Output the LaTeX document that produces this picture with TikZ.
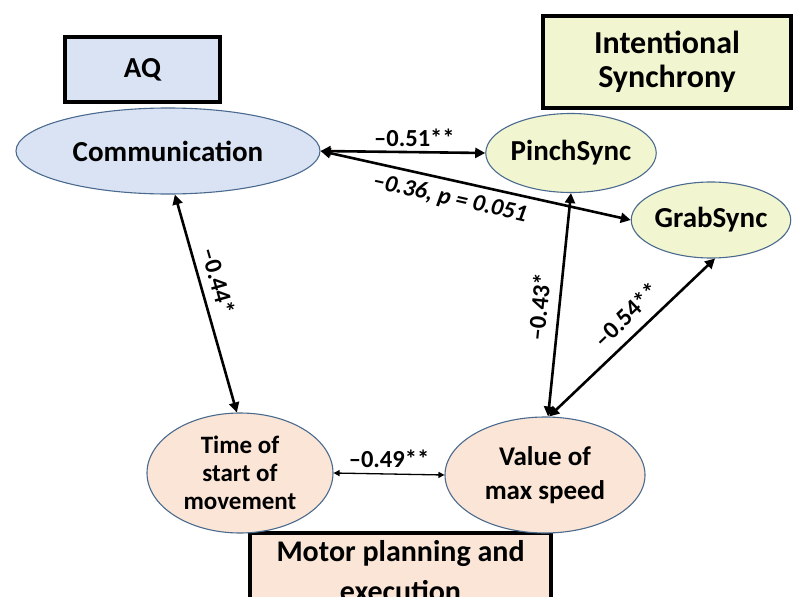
\documentclass[tikz,border=0pt]{standalone}
\usepackage{fontspec}
\setmainfont{Carlito}
\usetikzlibrary{arrows.meta,shapes.geometric}
\definecolor{aqblue}{HTML}{DAE3F3}
\definecolor{syncyellow}{HTML}{F2F6D0}
\definecolor{motorpeach}{HTML}{FBE5D6}
\definecolor{ellborder}{HTML}{4A6A8F}
\tikzset{
  titlebox/.style={draw=black, line width=3.5pt, align=center, inner sep=0pt, font=\fontsize{29}{34}\selectfont\bfseries},
  varell/.style={ellipse, draw=ellborder, line width=1.1pt, inner sep=0pt, align=center},
  bigtxt/.style={font=\fontsize{29}{34}\selectfont\bfseries},
  midtxt/.style={font=\fontsize{25}{28}\selectfont\bfseries},
  corr/.style={line width=2.6pt, {Triangle[length=10pt,width=10pt]}-{Triangle[length=10pt,width=10pt]}},
  corrthin/.style={line width=1.3pt, {Triangle[length=6pt,width=6pt]}-{Triangle[length=6pt,width=6pt]}},
  lbl/.style={font=\fontsize{24.5}{28}\selectfont\bfseries, inner sep=4pt},
  lblit/.style={font=\fontsize{24}{28}\selectfont\bfseries\itshape, inner sep=4pt}
}
\begin{document}
\begin{tikzpicture}[x=1pt,y=-1pt]
\useasboundingbox (0,0) rectangle (793,597);
\clip (0,0) rectangle (793,597);
% title boxes
\node[titlebox, fill=aqblue, minimum width=155pt, minimum height=65pt] (aq) at (142.5,69.5) {AQ};
\node[titlebox, fill=syncyellow, minimum width=248pt, minimum height=92pt, font=\fontsize{32}{34}\selectfont\bfseries] (intsync) at (667,62) {Intentional\\Synchrony};
\node[titlebox, fill=motorpeach, minimum width=301pt, minimum height=76pt, font=\fontsize{30}{40}\selectfont\bfseries] (motor) at (400.5,571) {Motor planning and\\execution};
% variables
\node[varell, fill=aqblue, minimum width=304pt, minimum height=86pt, bigtxt] (comm) at (168,151) {Communication};
\node[varell, fill=syncyellow, minimum width=168pt, minimum height=79pt, bigtxt] (pinch) at (571,153) {PinchSync};
\node[varell, fill=syncyellow, minimum width=158pt, minimum height=76pt, bigtxt] (grab) at (711,220) {GrabSync};
\node[varell, fill=motorpeach, minimum width=186pt, minimum height=120pt, midtxt] (time) at (240,473) {Time of\\start of\\movement};
\node[varell, fill=motorpeach, minimum width=200pt, minimum height=116pt, font=\fontsize{27}{34}\selectfont\bfseries] (value) at (545,475) {Value of\\max speed};
% connectors
\draw[corr] (comm.east) -- node[lbl, above, pos=0.57] {\textendash0.51**} (pinch.west);
\draw[corr] (comm.east) -- node[lblit, below=3pt, sloped, pos=0.43] {\textendash0.36, p = 0.051} (grab.west);
\draw[corr] (comm.-81) -- node[lbl, above=4pt, sloped, pos=0.42] {\textendash0.44*} (time.93);
\draw[corr] (pinch.-90) -- node[lbl, above=6pt, sloped, pos=0.52] {\textendash0.43*} (value.87);
\draw[corr] (grab.-84) -- node[lbl, above=6pt, sloped, pos=0.45] {\textendash0.54**} (value.86);
\draw[corrthin] (time.east) -- node[lbl, above=2pt, pos=0.5] {\textendash0.49**} (value.west);
\end{tikzpicture}
\end{document}
